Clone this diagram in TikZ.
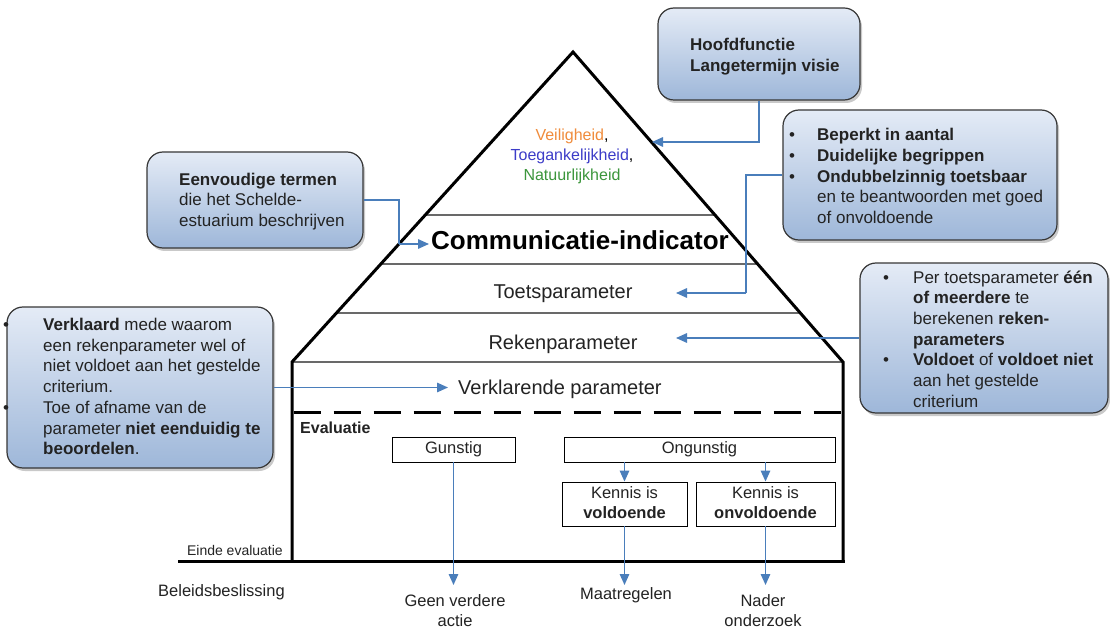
\documentclass[tikz,border=0pt]{standalone}
\usepackage{fontspec}
\setmainfont{Liberation Sans}
\usetikzlibrary{arrows.meta,shadows}
\definecolor{connc}{RGB}{74,126,187}
\definecolor{boxtop}{RGB}{228,235,246}
\definecolor{boxbot}{RGB}{158,183,217}
\definecolor{boxedge}{RGB}{55,55,55}
\definecolor{sepc}{RGB}{105,105,105}
\definecolor{veil}{RGB}{240,140,60}
\definecolor{toeg}{RGB}{60,60,200}
\definecolor{natu}{RGB}{60,150,60}
\definecolor{txt}{RGB}{35,35,35}
\newcommand{\tabL}[1]{\begin{tabular}{@{}l@{}}#1\end{tabular}}
\newcommand{\tabC}[1]{\begin{tabular}{@{}c@{}}#1\end{tabular}}
\newcommand{\tabB}[2]{\begin{tabular}{@{}p{#1}@{}l@{}}#2\end{tabular}}
\begin{document}
\begin{tikzpicture}[x=1pt,y=-1pt,
  callout/.style={draw=boxedge, line width=1.2pt, rounded corners=16pt,
    top color=boxtop, bottom color=boxbot,
    drop shadow={shadow xshift=2pt, shadow yshift=-3pt, opacity=0.35, fill=black!60},
    inner sep=0pt},
  boxtxt/.style={inner sep=0pt, text=txt, font=\fontsize{17}{20.7}\selectfont, anchor=west},
  conn/.style={draw=connc, line width=1.5pt, -{Triangle[length=11pt,width=9.5pt]}},
  link/.style={draw=connc, line width=1.5pt},
  heavy/.style={draw=black, line width=3pt},
  sepline/.style={draw=sepc, line width=1.3pt},
  level/.style={inner sep=0pt, text=txt, font=\fontsize{20}{24}\selectfont},
  evbox/.style={draw=black, line width=0.9pt, inner sep=0pt, text=txt,
    font=\fontsize{16.5}{20}\selectfont},
  lbl/.style={inner sep=0pt, text=txt, font=\fontsize{16.5}{20}\selectfont}
]
\useasboundingbox (0,0) rectangle (1110,628);
\fill[white] (0,0) rectangle (1110,628);

% pyramid
\coordinate (apex) at (573,52);
\coordinate (lsh) at (292,362);
\coordinate (rsh) at (843,362);
\coordinate (lbot) at (292,561);
\coordinate (rbot) at (843,561);
\coordinate (base0) at (178,561);
\coordinate (base1) at (844.5,561);
\draw[sepline] (425.2,215) -- (715,215);
\draw[sepline] (380.8,264) -- (757.6,264);
\draw[sepline] (336.4,313) -- (800.3,313);
\draw[sepline] (lsh) -- (rsh);
\draw[heavy, line join=miter] (lbot) -- (lsh) -- (apex) -- (rsh) -- (rbot);
\draw[heavy] (base0) -- (base1);
\draw[heavy, dash pattern=on 27pt off 13pt] (293.5,412) -- (841.5,412);

% level texts
\node[inner sep=0pt, font=\fontsize{16}{20}\selectfont] (waarden) at (572,157)
  {\tabC{\textcolor{veil}{Veiligheid},\\\textcolor{toeg}{Toegankelijkheid},\\\textcolor{natu}{Natuurlijkheid}}};
\node[inner sep=0pt, anchor=base west, text=black, font=\fontsize{26}{30}\selectfont\bfseries]
  (comm) at (431,250) {Communicatie-indicator};
\node[level, anchor=base] (toets) at (563,298.5) {Toetsparameter};
\node[level, anchor=base] (reken) at (563,349) {Rekenparameter};
\node[level, anchor=base west] (verkl) at (458,394.5) {Verklarende parameter};

% evaluation
\node[inner sep=0pt, anchor=base west, text=txt, font=\fontsize{16}{20}\selectfont\bfseries]
  (evaltxt) at (300,433) {Evaluatie};
\node[evbox, minimum width=123pt, minimum height=25pt] (gun) at (453.5,449.5) {Gunstig};
\node[evbox, minimum width=271pt, minimum height=25pt] (ong) at (699.5,449.5) {Ongunstig};
\node[evbox, minimum width=125pt, minimum height=44pt] (ken1) at (624.5,504)
  {\tabC{Kennis is\\\textbf{voldoende}}};
\node[evbox, minimum width=139pt, minimum height=44pt] (ken2) at (765.5,504)
  {\tabC{Kennis is\\\textbf{onvoldoende}}};
\node[inner sep=0pt, anchor=base east, text=txt, font=\fontsize{14}{17}\selectfont]
  (einde) at (283,555) {Einde evaluatie};
\node[lbl, anchor=base west] (beleid) at (158,596) {Beleidsbeslissing};
\node[lbl] (geen) at (455,612) {\tabC{Geen verdere\\actie}};
\node[lbl, anchor=base] (maatr) at (626,599) {Maatregelen};
\node[lbl] (nader) at (763,612) {\tabC{Nader\\onderzoek}};

\draw[conn] (gun.south) -- (gun.south |- 0,585);
\draw[conn] (ong.south -| ken1.north) -- (ken1.north);
\draw[conn] (ong.south -| ken2.north) -- (ken2.north);
\draw[conn] (ken1.south) -- (ken1.south |- 0,585);
\draw[conn] (ken2.south) -- (ken2.south |- 0,585);

% callout boxes
\node[callout, minimum width=202pt, minimum height=92pt] (hoofd) at (759,54) {};
\node[boxtxt, font=\fontsize{17}{20.7}\selectfont\bfseries] (hoofdtxt) at (690,57)
  {\tabL{Hoofdfunctie\\Langetermijn visie}};

\node[callout, minimum width=274pt, minimum height=130pt] (beperkt) at (920,175) {};
\node[boxtxt] (beperkttxt) at (789,178)
  {\tabB{28pt}{• & \textbf{Beperkt in aantal}\\• & \textbf{Duidelijke begrippen}\\• & \textbf{Ondubbelzinnig toetsbaar}\\ & en te beantwoorden met goed\\ & of onvoldoende}};

\node[callout, minimum width=216pt, minimum height=96pt] (eenv) at (255,200) {};
\node[boxtxt] (eenvtxt) at (179,201.7)
  {\tabL{\textbf{Eenvoudige termen}\\die het Schelde-\\estuarium beschrijven}};

\node[callout, minimum width=248pt, minimum height=150pt] (pertoets) at (984,338) {};
\node[boxtxt] (pertoetstxt) at (883,341)
  {\tabB{30pt}{• & Per toetsparameter \textbf{één}\\ & \textbf{of meerdere} te\\ & berekenen \textbf{reken-}\\ & \textbf{parameters}\\• & \textbf{Voldoet} of \textbf{voldoet niet}\\ & aan het gestelde\\ & criterium}};

\node[callout, minimum width=266pt, minimum height=161pt] (verklaard) at (140,387.5) {};
\node[boxtxt] (verklaardtxt) at (3,388.5)
  {\tabB{40pt}{• & \textbf{Verklaard} mede waarom\\ & een rekenparameter wel of\\ & niet voldoet aan het gestelde\\ & criterium.\\• & Toe of afname van de\\ & parameter \textbf{niet eenduidig te}\\ & \textbf{beoordelen}.}};

% connectors from callouts
\coordinate (tipA) at (652,142);
\coordinate (bendB) at (746,293);
\coordinate (tipB) at (676,293);
\coordinate (bendC) at (399,244);
\coordinate (tipC) at (429,244);
\coordinate (tipD) at (676,338);
\coordinate (tipE) at (448,387.5);
\draw[conn] (hoofd.south) |- (tipA);
\draw[link] (beperkt.west) -| (bendB);
\draw[conn] (bendB) -- (tipB);
\draw[link] (eenv.east) -| (bendC);
\draw[conn] (bendC) -- (tipC);
\draw[conn] (pertoets.west) -- (tipD);
\draw[conn] (verklaard.east) -- (tipE);
\end{tikzpicture}
\end{document}
